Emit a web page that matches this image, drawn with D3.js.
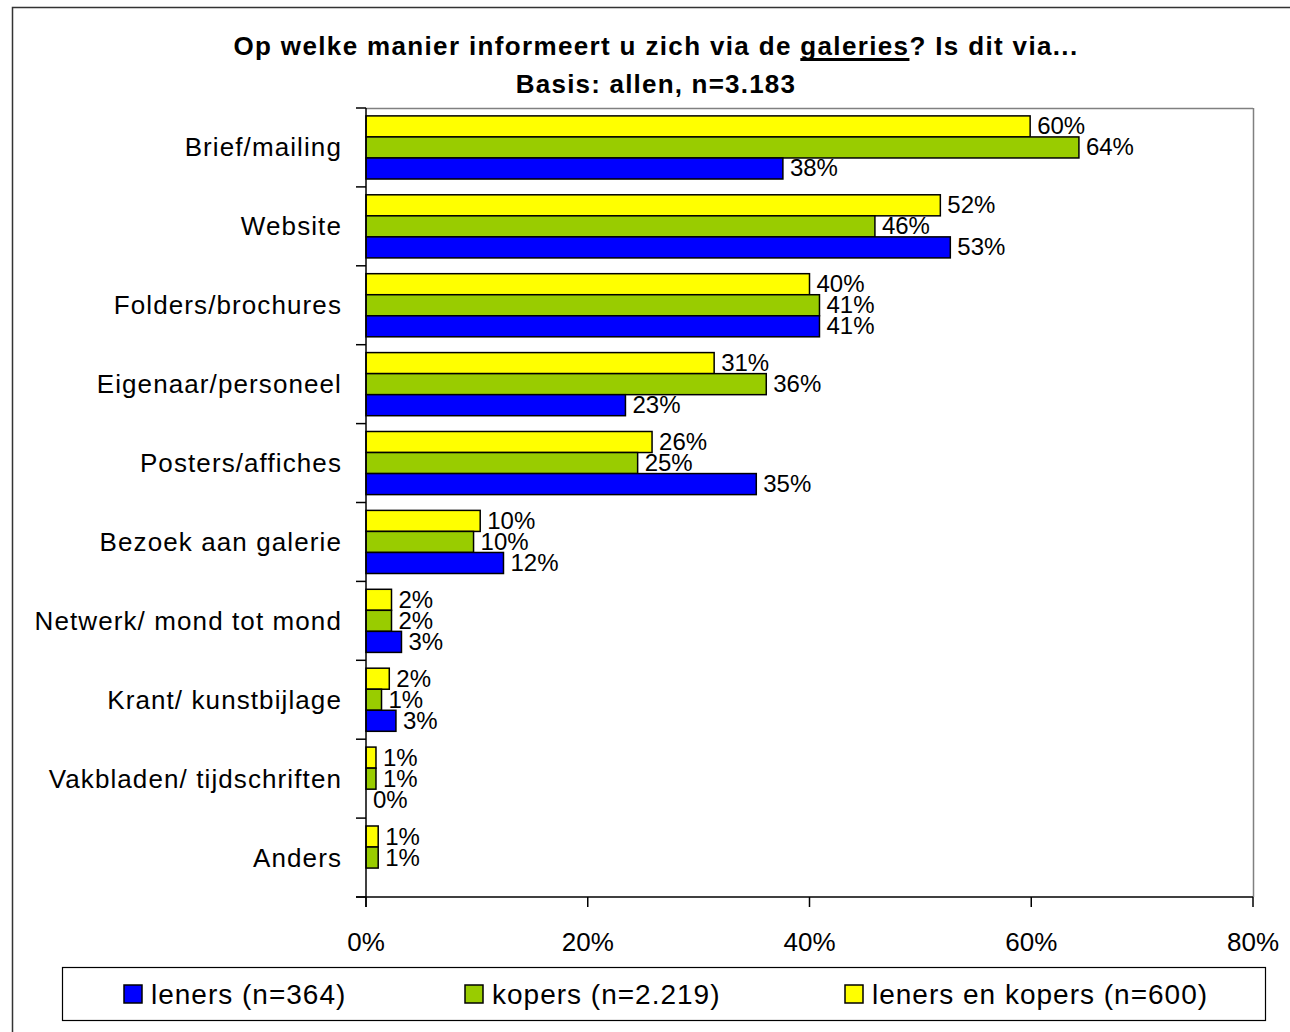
<!DOCTYPE html>
<html>
<head>
<meta charset="utf-8">
<script src="https://cdn.jsdelivr.net/npm/d3@7/dist/d3.min.js"></script>
<style>
  html, body { margin: 0; padding: 0; background: #fff; }
  svg { display: block; font-family: "Liberation Sans", Arial, sans-serif; }
</style>
</head>
<body>
<svg id="chart" width="1290" height="1032"></svg>
<script>
// ---- data ----
const categories = [
  "Brief/mailing", "Website", "Folders/brochures", "Eigenaar/personeel",
  "Posters/affiches", "Bezoek aan galerie", "Netwerk/ mond tot mond",
  "Krant/ kunstbijlage", "Vakbladen/ tijdschriften", "Anders"
];
const seriesNames = ["leners (n=364)", "kopers (n=2.219)", "leners en kopers (n=600)"];
const leners        = [37.6, 52.7, 40.9, 23.4, 35.2, 12.4, 3.2, 2.7, 0.0, null];
const kopers        = [64.3, 45.9, 40.9, 36.1, 24.5, 9.7, 2.3, 1.4, 0.9, 1.1];
const lenersKopers  = [59.9, 51.8, 40.0, 31.4, 25.8, 10.3, 2.3, 2.1, 0.9, 1.1];
const xTicks = [0, 20, 40, 60, 80];
const colors = ["#0000FF", "#99CC00", "#FFFF00"];

const seriesValues = [leners, kopers, lenersKopers];

const svg = d3.select("#chart");
svg.append("rect").attr("width", 1290).attr("height", 1032).attr("fill", "#fff");

// outer chart border
svg.append("rect")
  .attr("x", 12.5).attr("y", 7.5).attr("width", 1300).attr("height", 1050)
  .attr("fill", "none").attr("stroke", "#333").attr("stroke-width", 1.5);

const L = 366, R = 1253, T = 108, B = 897;
const x = d3.scaleLinear().domain([0, 80]).range([L, R]);
const y = d3.scaleBand().domain(categories).range([T, B]).paddingInner(0.2).paddingOuter(0.1);
// order within a group: yellow top, green, blue bottom
const inner = d3.scaleBand().domain([2, 1, 0]).range([0, y.bandwidth()]);

// plot frame: top & right gray
svg.append("line").attr("x1", L).attr("x2", R).attr("y1", T + 0.5).attr("y2", T + 0.5)
  .attr("stroke", "#808080").attr("stroke-width", 1.5);
svg.append("line").attr("x1", R + 0.5).attr("x2", R + 0.5).attr("y1", T).attr("y2", B)
  .attr("stroke", "#808080").attr("stroke-width", 1.5);

// bars
const groups = svg.append("g");
categories.forEach((c, i) => {
  [2, 1, 0].forEach(s => {
    const v = seriesValues[s][i];
    if (v === null) return;
    const by = y(c) + inner(s);
    if (v > 0) {
      groups.append("rect")
        .attr("x", x(0)).attr("y", by)
        .attr("width", x(v) - x(0)).attr("height", inner.bandwidth())
        .attr("fill", colors[s]).attr("stroke", "#000").attr("stroke-width", 1.5);
    }
  });
});

// value labels
categories.forEach((c, i) => {
  [2, 1, 0].forEach(s => {
    const v = seriesValues[s][i];
    if (v === null) return;
    const by = y(c) + inner(s) + inner.bandwidth() / 2;
    svg.append("text")
      .attr("x", x(v) + 7).attr("y", by + 8)
      .attr("font-size", 24).attr("fill", "#000")
      .text(Math.round(v) + "%");
  });
});

// y axis
const yAxisG = svg.append("g");
yAxisG.append("line").attr("x1", L).attr("x2", L).attr("y1", T).attr("y2", B + 10)
  .attr("stroke", "#000").attr("stroke-width", 1.5);
d3.range(categories.length + 1).forEach(k => {
  const yy = T + k * (B - T) / categories.length;
  yAxisG.append("line").attr("x1", L - 10).attr("x2", L).attr("y1", yy).attr("y2", yy)
    .attr("stroke", "#000").attr("stroke-width", 1.5);
});
categories.forEach(c => {
  yAxisG.append("text")
    .attr("x", 342).attr("y", y(c) + y.bandwidth() / 2 + 9)
    .attr("text-anchor", "end").attr("font-size", 26).attr("letter-spacing", "1.1px")
    .attr("fill", "#000").text(c);
});

// x axis
const xAxisG = svg.append("g");
xAxisG.append("line").attr("x1", L - 10).attr("x2", R).attr("y1", B).attr("y2", B)
  .attr("stroke", "#000").attr("stroke-width", 1.5);
xTicks.forEach(t => {
  xAxisG.append("line").attr("x1", x(t)).attr("x2", x(t)).attr("y1", B).attr("y2", B + 10)
    .attr("stroke", "#000").attr("stroke-width", 1.5);
  xAxisG.append("text").attr("x", x(t)).attr("y", 951)
    .attr("text-anchor", "middle").attr("font-size", 26).attr("fill", "#000")
    .text(t + "%");
});

// title
const t1 = svg.append("text").attr("x", 656).attr("y", 55).attr("text-anchor", "middle")
  .attr("font-size", 26).attr("font-weight", "bold").attr("letter-spacing", "1.35px");
t1.append("tspan").text("Op welke manier informeert u zich via de ");
const ul = t1.append("tspan").text("galeries");
t1.append("tspan").text("? Is dit via...");
// thick underline under "galeries"
const tNode = t1.node();
const full = tNode.textContent;
const si = full.indexOf("galeries");
const x0 = tNode.getStartPositionOfChar(si).x;
const x1 = tNode.getEndPositionOfChar(si + "galeries".length - 1).x;
svg.append("rect").attr("x", x0).attr("y", 58).attr("width", x1 - x0).attr("height", 3).attr("fill", "#000");

svg.append("text").attr("x", 656).attr("y", 93).attr("text-anchor", "middle")
  .attr("font-size", 26).attr("font-weight", "bold").attr("letter-spacing", "1.2px")
  .text("Basis: allen, n=3.183");

// legend
svg.append("rect").attr("x", 62.5).attr("y", 967.5).attr("width", 1203).attr("height", 53)
  .attr("fill", "#fff").attr("stroke", "#000").attr("stroke-width", 1.2);
const legX = [124, 465, 845];
seriesNames.forEach((n, s) => {
  svg.append("rect").attr("x", legX[s]).attr("y", 985).attr("width", 18).attr("height", 18)
    .attr("fill", colors[s]).attr("stroke", "#000").attr("stroke-width", 1.5);
  svg.append("text").attr("x", legX[s] + 27).attr("y", 1004)
    .attr("font-size", 28).attr("letter-spacing", "1px").attr("fill", "#000").text(n);
});
</script>
</body>
</html>
